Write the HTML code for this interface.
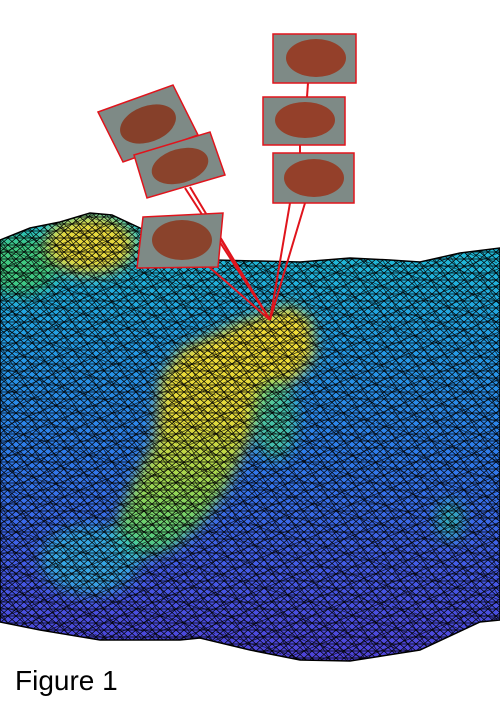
<!DOCTYPE html>
<html><head><meta charset="utf-8"><style>
html,body{margin:0;padding:0;background:#fff;width:500px;height:725px;overflow:hidden}
svg{display:block}
</style></head><body>
<svg width="500" height="725" viewBox="0 0 500 725">
<defs>
<linearGradient id="depth" x1="0" y1="0" x2="0" y2="1">
<stop offset="0" stop-color="#22c6c8"/>
<stop offset="0.1" stop-color="#1fbad4"/>
<stop offset="0.3" stop-color="#249ce4"/>
<stop offset="0.55" stop-color="#2f7aea"/>
<stop offset="0.8" stop-color="#4458e4"/>
<stop offset="1" stop-color="#5040d6"/>
</linearGradient>
<linearGradient id="ridge" x1="0" y1="0" x2="0" y2="1">
<stop offset="0" stop-color="#f4dc38"/>
<stop offset="0.45" stop-color="#e2d83a"/>
<stop offset="0.75" stop-color="#8ed456"/>
<stop offset="1" stop-color="#3cc892"/>
</linearGradient>
<filter id="blur" x="-20%" y="-20%" width="140%" height="140%"><feGaussianBlur stdDeviation="7"/></filter>
<pattern id="mesh" width="16" height="14" patternUnits="userSpaceOnUse">
<path d="M0 0L16 0M0 7L16 7M0 14L16 14M0 0L8 7L0 14M8 7L16 0M8 7L16 14M0 7L8 0M0 7L8 14M8 0L16 7M8 14L16 7" stroke="#000" stroke-width="0.7" fill="none"/>
</pattern>
<pattern id="mesh2" width="23" height="19" patternUnits="userSpaceOnUse" patternTransform="rotate(17)">
<path d="M0 0L23 19M23 0L0 19M0 9L23 11" stroke="#000" stroke-width="0.6" fill="none"/>
</pattern>
<clipPath id="terrainClip"><path id="tshape" d="M0 240 L30 228 L60 222 L90 213 L112 215 L140 228 L160 240 L215 260 L300 262 L350 258 L390 260 L420 262 L460 253 L500 248 L500 620 L480 622 L420 650 L350 661 L300 660 L250 650 L200 638 L180 640 L100 640 L40 630 L0 622 Z"/></clipPath>
</defs>
<g clip-path="url(#terrainClip)">
<rect x="0" y="200" width="500" height="470" fill="url(#depth)"/>
<ellipse cx="20" cy="265" rx="40" ry="30" fill="#40c880" filter="url(#blur)"/>
<ellipse cx="90" cy="245" rx="45" ry="30" fill="#e6d83c" filter="url(#blur)"/>
<path d="M240 322 L290 305 L312 320 L315 355 L300 375 L270 400 L250 440 L225 490 L200 525 L170 550 L130 560 L110 540 L130 490 L155 440 L160 380 L180 350 Z" fill="url(#ridge)" filter="url(#blur)"/>
<ellipse cx="275" cy="420" rx="22" ry="40" fill="#4ccf98" filter="url(#blur)" opacity="0.8"/>
<ellipse cx="90" cy="560" rx="50" ry="35" fill="#30c4e0" filter="url(#blur)" opacity="0.7"/>
<ellipse cx="450" cy="520" rx="15" ry="20" fill="#30b8b0" filter="url(#blur)" opacity="0.8"/>
<rect x="0" y="200" width="500" height="470" fill="url(#mesh)"/>
<rect x="0" y="200" width="500" height="470" fill="url(#mesh2)"/>
</g>
<use href="#tshape" fill="none" stroke="#000" stroke-width="1.5"/>
<g stroke="#e0141c" stroke-width="2">
<line x1="308" y1="83" x2="307" y2="97"/>
<line x1="300" y1="145" x2="300" y2="153"/>
<line x1="290" y1="203" x2="270" y2="320"/>
<line x1="305" y1="203" x2="270" y2="320"/>
<line x1="185" y1="188" x2="270" y2="320"/>
<line x1="190" y1="187" x2="270" y2="320"/>
<line x1="208" y1="266" x2="270" y2="320"/>
<line x1="220" y1="238" x2="270" y2="320"/>
</g>
<g>
<polygon points="98,112 173,85 198,135 123,162" fill="#7e8a86" stroke="#e0141c" stroke-width="1.5"/>
<ellipse cx="148" cy="124" rx="29" ry="18" transform="rotate(-20 148 124)" fill="#86402a"/>
<polygon points="134,155 210,132 225,175 147,198" fill="#7e8a86" stroke="#e0141c" stroke-width="1.5"/>
<ellipse cx="180" cy="166" rx="29" ry="17" transform="rotate(-16 180 166)" fill="#8a432c"/>
<polygon points="143,217 223,213 218,267 137,268" fill="#7e8a86" stroke="#e0141c" stroke-width="1.5"/>
<ellipse cx="182" cy="240" rx="30" ry="20" fill="#8a432c"/>
<rect x="273" y="34" width="83" height="49" fill="#7e8a86" stroke="#e0141c" stroke-width="1.5"/><ellipse cx="316" cy="58" rx="30" ry="19" fill="#94402a"/>
<rect x="263" y="97" width="82" height="48" fill="#7e8a86" stroke="#e0141c" stroke-width="1.5"/><ellipse cx="305" cy="120" rx="30" ry="18" fill="#94402a"/>
<rect x="273" y="153" width="81" height="50" fill="#7e8a86" stroke="#e0141c" stroke-width="1.5"/><ellipse cx="314" cy="178" rx="30" ry="19" fill="#94402a"/>
</g>
<text x="15" y="690" font-family="Liberation Sans, sans-serif" font-size="28" fill="#000">Figure 1</text>
</svg>
</body></html>
